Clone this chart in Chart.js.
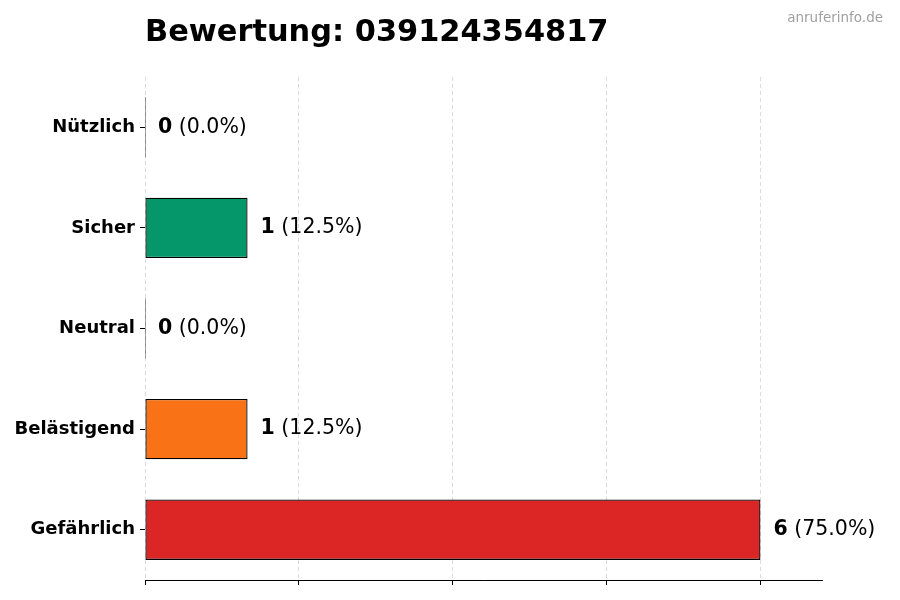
<!DOCTYPE html>
<html>
<head>
<meta charset="utf-8">
<script src="https://cdn.jsdelivr.net/npm/chart.js@4/dist/chart.umd.min.js"></script>
<style>
  html, body { margin: 0; padding: 0; background: #fff; }
  #wrap { width: 900px; height: 600px; }
</style>
</head>
<body>
<div id="wrap"><canvas id="bewertung"></canvas></div>
<script>
var kategorien = ['Nützlich', 'Sicher', 'Neutral', 'Belästigend', 'Gefährlich'];
var anzahl = [0, 1, 0, 1, 6];
var farben = ['#16a34a', '#059669', '#6b7280', '#f97316', '#dc2626'];
var xTicks = [0, 1.5, 3, 4.5, 6];
var titel = 'Bewertung: 039124354817';
var quelle = 'anruferinfo.de';

var summe = anzahl.reduce(function(a, b) { return a + b; }, 0);

// labels "6 (75.0%)" next to the bars
var wertLabels = {
    id: 'wertLabels',
    afterDatasetsDraw: function(chart) {
        var ctx = chart.ctx;
        var meta = chart.getDatasetMeta(0);
        ctx.save();
        ctx.textBaseline = 'middle';
        ctx.fillStyle = '#000';
        meta.data.forEach(function(bar, i) {
            var x = chart.scales.x.getPixelForValue(anzahl[i]) + 13;
            var y = bar.y;
            var fett = String(anzahl[i]);
            var rest = ' (' + (anzahl[i] / summe * 100).toFixed(1) + '%)';
            ctx.font = 'bold 20.5px "DejaVu Sans"';
            ctx.fillText(fett, x, y);
            var w = ctx.measureText(fett).width;
            ctx.font = '20.5px "DejaVu Sans"';
            ctx.fillText(rest, x + w, y);
        });
        ctx.restore();
    }
};

var kopf = {
    id: 'kopf',
    afterDraw: function(chart) {
        var ctx = chart.ctx;
        ctx.save();
        ctx.textBaseline = 'alphabetic';
        ctx.fillStyle = '#000';
        ctx.font = 'bold 30.4px "DejaVu Sans"';
        ctx.textAlign = 'left';
        ctx.fillText(titel, 145, 41);
        ctx.fillStyle = '#a0a0a0';
        ctx.font = '13.5px "DejaVu Sans"';
        ctx.textAlign = 'right';
        ctx.fillText(quelle, 883, 22);
        ctx.restore();
    }
};

var ctx = document.getElementById('bewertung').getContext('2d');
var chart = new Chart(ctx, {
    type: 'bar',
    data: {
        labels: kategorien,
        datasets: [{
            data: anzahl,
            backgroundColor: farben,
            borderColor: '#000',
            borderWidth: 1.3,
            borderSkipped: false,
            minBarLength: 1,
            barPercentage: 0.6,
            categoryPercentage: 1.0
        }]
    },
    options: {
        indexAxis: 'y',
        responsive: true,
        maintainAspectRatio: false,
        animation: false,
        devicePixelRatio: 1,
        layout: {
            padding: { top: 77, right: 78, bottom: 0, left: 0 }
        },
        plugins: {
            legend: { display: false },
            title: { display: false },
            tooltip: { enabled: false }
        },
        scales: {
            x: {
                min: 0,
                max: 6.6,
                z: 1,
                afterBuildTicks: function(scale) {
                    scale.ticks = xTicks.map(function(v) { return { value: v }; });
                },
                afterFit: function(scale) { scale.height = 20; },
                ticks: { display: false },
                grid: {
                    color: 'rgba(200,200,200,0.8)',
                    lineWidth: 0.8,
                    tickColor: '#000',
                    tickLength: 5,
                    tickWidth: 1
                },
                border: { display: true, color: '#000', width: 1, dash: [4, 3] }
            },
            y: {
                afterFit: function(scale) { scale.width = 145; },
                ticks: {
                    color: '#000',
                    padding: 5,
                    font: { family: 'DejaVu Sans', size: 18, weight: 'bold' }
                },
                grid: {
                    offset: false,
                    drawOnChartArea: false,
                    tickColor: '#000',
                    tickLength: 5
                },
                border: { display: false }
            }
        }
    },
    plugins: [wertLabels, kopf]
});
</script>
</body>
</html>
